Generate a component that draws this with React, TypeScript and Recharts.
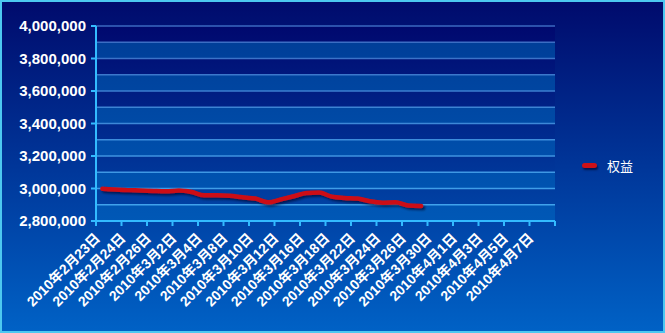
import { LineChart, Line, XAxis, YAxis, CartesianGrid } from 'recharts'

// tick labels on the category axis (one label every second slot)
const tickDates = [
  '2010年2月23日', '2010年2月24日', '2010年2月26日', '2010年3月2日', '2010年3月4日',
  '2010年3月8日', '2010年3月10日', '2010年3月12日', '2010年3月16日', '2010年3月18日',
  '2010年3月22日', '2010年3月24日', '2010年3月26日', '2010年3月30日', '2010年4月1日',
  '2010年4月3日', '2010年4月5日', '2010年4月7日',
]
const slotCount = 36

// 权益 (equity) per trading slot
const equity = [
  2998000, 2994000, 2990000, 2988000, 2985000, 2983000, 2987000, 2978000, 2958000,
  2958000, 2955000, 2946000, 2938000, 2915000, 2933000, 2952000, 2972000, 2975000,
  2950000, 2942000, 2938000, 2921000, 2913000, 2915000, 2895000, 2893000,
]

const yTicks = [
  2800000, 2900000, 3000000, 3100000, 3200000, 3300000, 3400000,
  3500000, 3600000, 3700000, 3800000, 3900000, 4000000,
]

const data = equity.map((v, i) => ({ slot: i + 0.5, equity: v }))
const xTicks = tickDates.map((_, i) => i * 2).concat(slotCount)

const AXIS = '#33bbff'
const TICK_SIZE = 5
const Y_MARGIN = 5
const FONT = '"Liberation Sans", Arial, "Noto Sans CJK SC", sans-serif'

function YTick({ x, y, payload }: any) {
  const v = payload.value as number
  if ((v / 100000) % 2 !== 0) return null
  return (
    <g>
      <line x1={x + Y_MARGIN} x2={x + Y_MARGIN + TICK_SIZE} y1={y} y2={y} stroke={AXIS} strokeWidth={2} />
      <text x={x} y={y} dy="0.36em" textAnchor="end" fill="#ffffff" fontFamily={FONT} fontWeight="bold" fontSize={15}>
        {v.toLocaleString('en-US')}
      </text>
    </g>
  )
}

function XTick({ x, y, payload }: any) {
  const label = tickDates[payload.value / 2]
  if (!label) return null
  return (
    <text
      x={x + 5}
      y={y + 11}
      transform={`rotate(-45, ${x + 5}, ${y + 11})`}
      textAnchor="end"
      fill="#ffffff"
      fontFamily={FONT}
      fontWeight="bold"
      fontSize={14}
    >
      {label}
    </text>
  )
}

export default function App() {
  return (
    <div
      style={{
        position: 'absolute',
        left: 0,
        top: 0,
        width: 665,
        height: 333,
        background: 'linear-gradient(180deg, #000a6c 0%, #0062c6 100%)',
      }}
    >
      <LineChart width={665} height={333} data={data} margin={{ top: 26, right: 110, left: 0, bottom: 0 }}>
        <defs>
          <linearGradient id="bandDark" gradientUnits="userSpaceOnUse" x1="0" y1="26" x2="0" y2="221">
            <stop offset="0%" stopColor="#00086e" />
            <stop offset="100%" stopColor="#0046a8" />
          </linearGradient>
          <linearGradient id="bandLight" gradientUnits="userSpaceOnUse" x1="0" y1="26" x2="0" y2="221">
            <stop offset="0%" stopColor="#003c96" />
            <stop offset="100%" stopColor="#0058b6" />
          </linearGradient>
          <linearGradient id="gridStroke" gradientUnits="userSpaceOnUse" x1="0" y1="26" x2="0" y2="221">
            <stop offset="0%" stopColor="#3a68c0" />
            <stop offset="100%" stopColor="#40a8f0" />
          </linearGradient>
          <filter id="lineShadow" x="-10%" y="-50%" width="120%" height="200%">
            <feDropShadow dx="2" dy="2" stdDeviation="1.2" floodColor="#000022" floodOpacity="0.6" />
          </filter>
        </defs>
        <CartesianGrid
          vertical={false}
          stroke="url(#gridStroke)"
          strokeWidth={1.5}
          fill="none"
          horizontalFill={['url(#bandDark)', 'url(#bandLight)']}
          fillOpacity={1}
        />
        <XAxis
          dataKey="slot"
          type="number"
          domain={[0, slotCount]}
          ticks={xTicks}
          interval={0}
          height={112}
          axisLine={{ stroke: AXIS, strokeWidth: 2 }}
          tickLine={{ stroke: AXIS, strokeWidth: 2 }}
          tickSize={TICK_SIZE}
          tick={<XTick />}
        />
        <YAxis
          domain={[2800000, 4000000]}
          ticks={yTicks}
          interval={0}
          width={96}
          axisLine={{ stroke: AXIS, strokeWidth: 2 }}
          tickLine={false}
          tickSize={TICK_SIZE}
          tickMargin={Y_MARGIN}
          tick={<YTick />}
        />
        <Line
          dataKey="equity"
          name="权益"
          type="monotone"
          stroke="#cc1118"
          strokeWidth={4.5}
          strokeLinecap="round"
          strokeLinejoin="round"
          dot={false}
          activeDot={false}
          filter="url(#lineShadow)"
          isAnimationActive={false}
        />
      </LineChart>
      <div
        style={{
          position: 'absolute',
          left: 582,
          top: 156,
          display: 'flex',
          alignItems: 'center',
          fontFamily: '"Noto Sans CJK SC", sans-serif',
          fontSize: 13,
          color: '#ffffff',
        }}
      >
        <span
          style={{
            display: 'inline-block',
            width: 15,
            height: 5,
            borderRadius: 3,
            background: '#cc1118',
            boxShadow: '1px 2px 2px rgba(0,0,30,0.6)',
            marginRight: 10,
          }}
        />
        <span>权益</span>
      </div>
      <div
        style={{
          position: 'absolute',
          inset: 0,
          border: '2px solid #4cc8f0',
          pointerEvents: 'none',
        }}
      />
    </div>
  )
}
